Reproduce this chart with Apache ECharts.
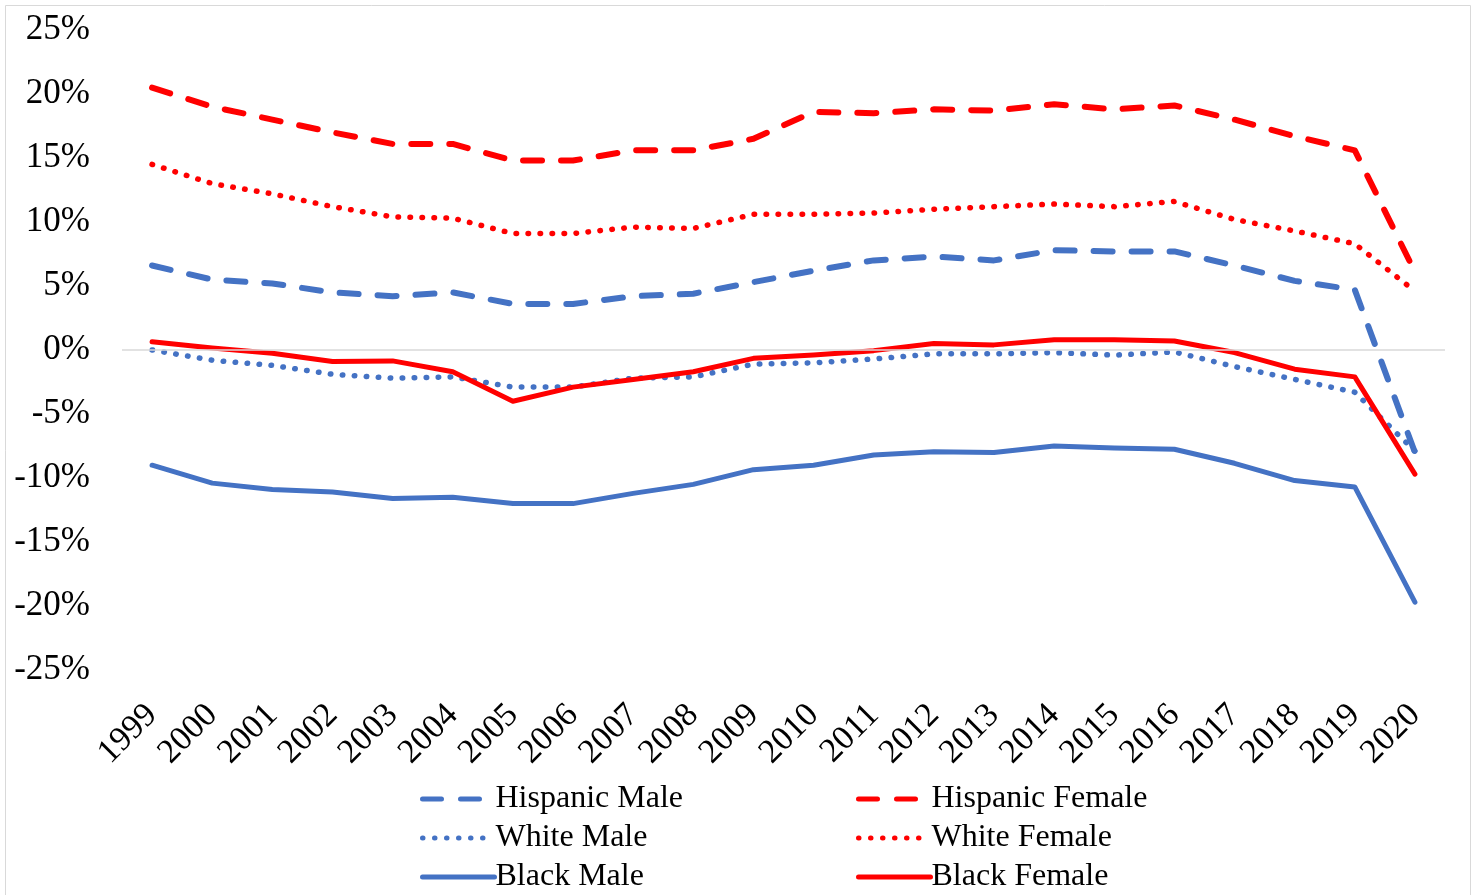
<!DOCTYPE html>
<html>
<head>
  <meta charset="UTF-8">
  <title>Chart</title>
  <script src="https://cdn.jsdelivr.net/npm/echarts@6/dist/echarts.min.js"></script>
  <style>
    html, body { margin: 0; padding: 0; background: #fff; }
    #main { width: 1477px; height: 895px; }
  </style>
</head>
<body>
<div id="main"></div>
<script type="text/javascript">
  // years on the x axis
  var years = ['1999','2000','2001','2002','2003','2004','2005','2006','2007','2008','2009',
               '2010','2011','2012','2013','2014','2015','2016','2017','2018','2019','2020'];

  // values in percent
  var hispanicMale   = [6.6, 5.5, 5.2, 4.5, 4.2, 4.5, 3.6, 3.6, 4.2, 4.4, 5.3, 6.2, 7.0, 7.3, 7.0, 7.8, 7.7, 7.7, 6.6, 5.4, 4.7, -8.0];
  var hispanicFemale = [20.5, 19.0, 18.0, 17.0, 16.1, 16.1, 14.8, 14.8, 15.6, 15.6, 16.5, 18.6, 18.5, 18.8, 18.7, 19.2, 18.8, 19.1, 18.0, 16.7, 15.6, 6.1];
  var whiteMale      = [0.0, -0.8, -1.2, -1.9, -2.2, -2.1, -2.9, -2.9, -2.2, -2.1, -1.1, -1.0, -0.7, -0.3, -0.3, -0.2, -0.4, -0.15, -1.3, -2.3, -3.3, -7.9];
  var whiteFemale    = [14.5, 13.0, 12.2, 11.2, 10.4, 10.3, 9.1, 9.1, 9.6, 9.5, 10.6, 10.6, 10.7, 11.0, 11.2, 11.4, 11.2, 11.6, 10.2, 9.3, 8.3, 4.6];
  var blackMale      = [-9.0, -10.4, -10.9, -11.1, -11.6, -11.5, -12.0, -12.0, -11.2, -10.5, -9.35, -9.0, -8.2, -7.95, -8.0, -7.5, -7.65, -7.75, -8.85, -10.2, -10.7, -19.7];
  var blackFemale    = [0.65, 0.15, -0.25, -0.9, -0.85, -1.7, -4.0, -2.9, -2.3, -1.7, -0.65, -0.4, -0.05, 0.5, 0.4, 0.8, 0.8, 0.7, -0.2, -1.5, -2.1, -9.7];

  var BLUE = '#4472C4';
  var RED = '#FF0000';
  var FONT = '"Liberation Serif", "Times New Roman", serif';

  function makeSeries(name, data, color, type) {
    var dash = type === 'dashed' ? [19, 19] : (type === 'dotted' ? [0.5, 11.5] : 'solid');
    var w = type === 'dashed' ? 6 : (type === 'dotted' ? 5.5 : 5);
    return {
      name: name,
      type: 'line',
      data: data,
      symbol: 'none',
      smooth: false,
      lineStyle: { color: color, width: w, type: dash, cap: 'round', join: 'round' },
      itemStyle: { color: color }
    };
  }

  var myChart = echarts.init(document.getElementById('main'));

  var series = [
    makeSeries('Hispanic Male', hispanicMale, BLUE, 'dashed'),
    makeSeries('Hispanic Female', hispanicFemale, RED, 'dashed'),
    makeSeries('White Male', whiteMale, BLUE, 'dotted'),
    makeSeries('White Female', whiteFemale, RED, 'dotted'),
    makeSeries('Black Male', blackMale, BLUE, 'solid'),
    makeSeries('Black Female', blackFemale, RED, 'solid')
  ];
  // zero line
  series[0].markLine = {
    silent: true,
    symbol: 'none',
    label: { show: false },
    lineStyle: { color: '#D9D9D9', type: 'solid', width: 1.5, cap: 'butt' },
    data: [{ yAxis: 0 }]
  };

  function legendColumn(left, names) {
    return {
      orient: 'vertical',
      left: left,
      top: 782,
      padding: 0,
      itemWidth: 72,
      itemHeight: 14,
      itemGap: 5,
      data: names,
      itemStyle: { opacity: 0 },
      lineStyle: { width: 5 },
      textStyle: { fontFamily: FONT, fontSize: 32, color: '#000', lineHeight: 34, padding: [0, 0, 0, -4] }
    };
  }

  myChart.setOption({
    animation: false,
    backgroundColor: '#fff',
    graphic: [{
      type: 'rect',
      shape: { x: 5.5, y: 5.5, width: 1465, height: 900 },
      style: { fill: 'none', stroke: '#D9D9D9', lineWidth: 1 },
      silent: true
    }],
    grid: { left: 122, right: 32, top: 30, bottom: 225, outerBoundsMode: 'none' },
    legend: [
      legendColumn(420, ['Hispanic Male', 'White Male', 'Black Male']),
      legendColumn(856, ['Hispanic Female', 'White Female', 'Black Female'])
    ],
    xAxis: {
      type: 'category',
      data: years,
      boundaryGap: true,
      axisLine: { show: false },
      axisTick: { show: false },
      axisLabel: {
        interval: 0,
        rotate: 45,
        margin: 40,
        fontFamily: FONT,
        fontSize: 34,
        color: '#000'
      }
    },
    yAxis: {
      type: 'value',
      min: -25,
      max: 25,
      interval: 5,
      axisLine: { show: false },
      axisTick: { show: false },
      splitLine: { show: false },
      axisLabel: {
        formatter: '{value}%',
        margin: 32,
        fontFamily: FONT,
        fontSize: 35,
        color: '#000',
        padding: [7, 0, 0, 0]
      }
    },
    series: series
  });
</script>
</body>
</html>
